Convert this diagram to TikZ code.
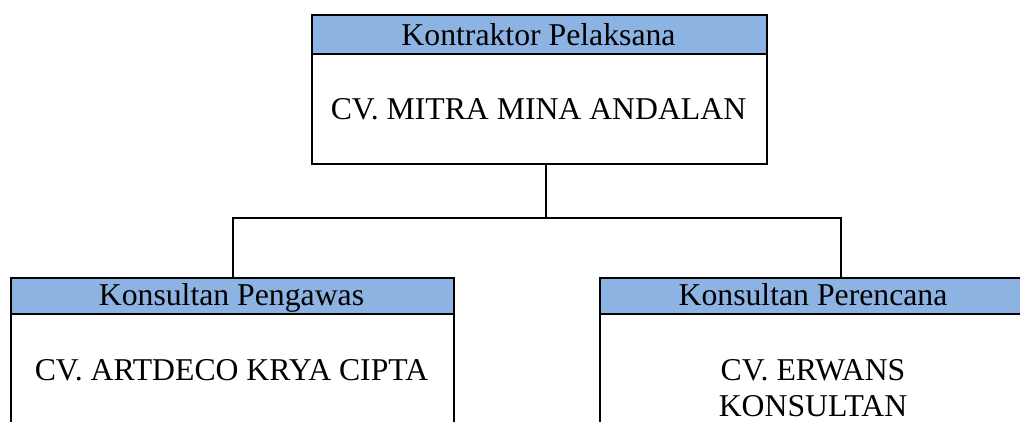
\documentclass[tikz,border=0pt]{standalone}
\usepackage{fontspec}
\setmainfont{Liberation Serif}
\definecolor{hdrblue}{HTML}{8DB3E2}
\begin{document}
\begin{tikzpicture}[x=0.75pt,y=-0.75pt,
  hdrbox/.style={draw=black,fill=hdrblue,line width=1.5pt,rectangle,inner sep=0pt,anchor=north west},
  bodybox/.style={draw=black,fill=white,line width=1.5pt,rectangle,inner sep=0pt,anchor=north west},
  lbl/.style={inner sep=0pt,font=\fontsize{23.8}{27}\selectfont,align=center},
  conn/.style={draw=black,line width=1pt}]
\useasboundingbox (0,0) rectangle (1020,421);
\clip (0,0) rectangle (1020,421);
\fill[white] (0,0) rectangle (1020,421);
% top box
\node[bodybox,minimum width=341.25pt,minimum height=82.5pt] (topbody) at (311,53) {};
\node[hdrbox,minimum width=341.25pt,minimum height=29.25pt] (tophdr) at (311,14) {};
\node[lbl,anchor=base] (toptitle) at (538.5,45) {Kontraktor Pelaksana};
\node[lbl] (topname) at (538.5,109.5) {CV. MITRA MINA ANDALAN};
% left box
\node[bodybox,minimum width=332.25pt,minimum height=120pt] (leftbody) at (10,313) {};
\node[hdrbox,minimum width=332.25pt,minimum height=27pt] (lefthdr) at (10,277) {};
\node[lbl,anchor=base] (lefttitle) at (231.5,305) {Konsultan Pengawas};
\node[lbl] (leftname) at (231.5,370) {CV. ARTDECO KRYA CIPTA};
% right box
\node[bodybox,minimum width=321pt,minimum height=120pt] (rightbody) at (599,313) {};
\node[hdrbox,minimum width=321pt,minimum height=27pt] (righthdr) at (599,277) {};
\node[lbl,anchor=base] (righttitle) at (813,305) {Konsultan Perencana};
\node[lbl] (rightname) at (813,388.5) {CV. ERWANS\\KONSULTAN};
% connectors
\coordinate (jc) at (546,218);
\coordinate (jl) at (233,218);
\coordinate (jr) at (841,218);
\draw[conn] (jc |- topbody.south) -- (jc);
\draw[conn] (jl |- lefthdr.north) -- (jl) -- (jr) -- (jr |- righthdr.north);
\end{tikzpicture}
\end{document}
